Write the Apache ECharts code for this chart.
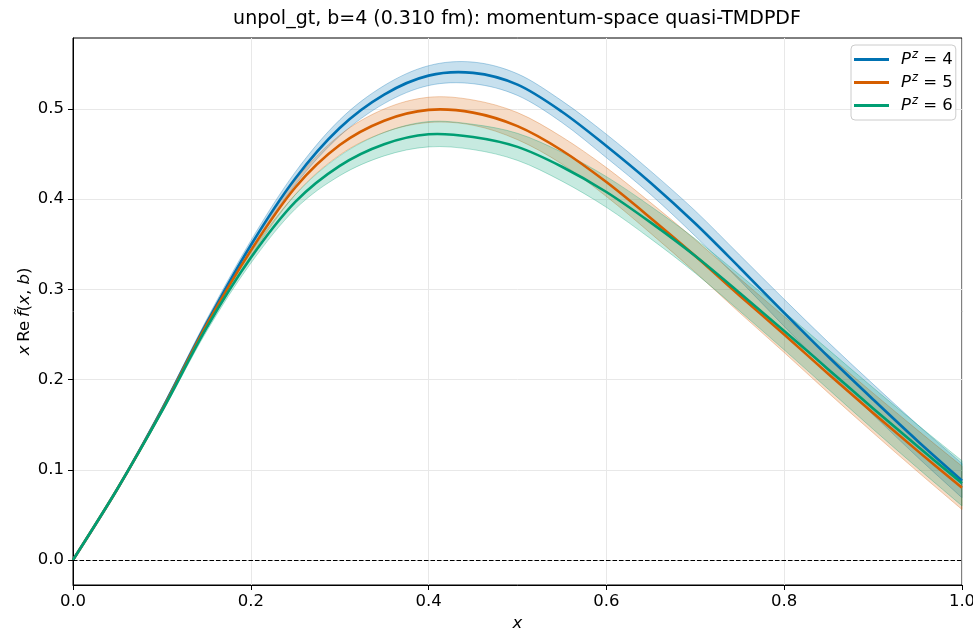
<!DOCTYPE html>
<html><head><meta charset="utf-8">
<script src="https://cdn.jsdelivr.net/npm/echarts@6/dist/echarts.min.js"></script>
<style>html,body{margin:0;padding:0;background:#fff}#c{width:973px;height:630px}</style>
</head><body><div id="c"></div>
<script>
const titleText = 'unpol_gt, b=4 (0.310 fm): momentum-space quasi-TMDPDF';
const xValues = [0, 0.05, 0.1, 0.15, 0.2, 0.25, 0.3, 0.35, 0.4, 0.45, 0.5, 0.55, 0.6, 0.65, 0.7, 0.75, 0.8, 0.85, 0.9, 0.95, 1.0];
const pzLabels = ['4', '5', '6'];
const meanPz4 = [0, 0.079, 0.167, 0.262, 0.349, 0.423, 0.479, 0.516, 0.537, 0.540, 0.527, 0.497, 0.459, 0.418, 0.373, 0.324, 0.274, 0.225, 0.178, 0.132, 0.088];
const meanPz5 = [0, 0.079, 0.166, 0.260, 0.343, 0.413, 0.460, 0.487, 0.499, 0.496, 0.481, 0.454, 0.419, 0.379, 0.337, 0.293, 0.250, 0.206, 0.163, 0.121, 0.080];
const meanPz6 = [0, 0.079, 0.165, 0.257, 0.335, 0.397, 0.437, 0.461, 0.472, 0.469, 0.458, 0.436, 0.408, 0.374, 0.337, 0.296, 0.254, 0.211, 0.168, 0.126, 0.085];
const errPz4 = [0, 0.001, 0.002, 0.004, 0.005, 0.007, 0.009, 0.010, 0.011, 0.012, 0.012, 0.012, 0.013, 0.013, 0.014, 0.014, 0.015, 0.016, 0.017, 0.018, 0.019];
const errPz5 = [0, 0.001, 0.002, 0.004, 0.006, 0.008, 0.011, 0.013, 0.014, 0.014, 0.015, 0.015, 0.016, 0.017, 0.018, 0.019, 0.020, 0.021, 0.022, 0.023, 0.024];
const errPz6 = [0, 0.001, 0.002, 0.004, 0.006, 0.008, 0.011, 0.013, 0.014, 0.014, 0.015, 0.016, 0.017, 0.018, 0.019, 0.020, 0.021, 0.022, 0.023, 0.024, 0.025];
const xTicks = [0, 0.2, 0.4, 0.6, 0.8, 1.0];
const yTicks = [0, 0.1, 0.2, 0.3, 0.4, 0.5];
const zeroLevel = 0;

const colors = ['#0072B2', '#D55E00', '#009E73'];
const means = [meanPz4, meanPz5, meanPz6];
const errs = [errPz4, errPz5, errPz6];
const FONT = 'DejaVu Sans';
const names = pzLabels.map(p => 'Pz=' + p);

function rgba(hex, a) {
  const n = parseInt(hex.slice(1), 16);
  return 'rgba(' + ((n >> 16) & 255) + ',' + ((n >> 8) & 255) + ',' + (n & 255) + ',' + a + ')';
}
// Catmull-Rom spline through pixel points -> SVG path
function crPath(pts, cmd) {
  let d = (cmd || 'M') + pts[0][0].toFixed(2) + ',' + pts[0][1].toFixed(2);
  for (let i = 0; i < pts.length - 1; i++) {
    const p0 = pts[i - 1] || pts[i], p1 = pts[i], p2 = pts[i + 1], p3 = pts[i + 2] || pts[i + 1];
    const c1x = p1[0] + (p2[0] - p0[0]) / 6, c1y = p1[1] + (p2[1] - p0[1]) / 6;
    const c2x = p2[0] - (p3[0] - p1[0]) / 6, c2y = p2[1] - (p3[1] - p1[1]) / 6;
    d += ' C' + c1x.toFixed(2) + ',' + c1y.toFixed(2) + ' ' + c2x.toFixed(2) + ',' + c2y.toFixed(2) + ' ' + p2[0].toFixed(2) + ',' + p2[1].toFixed(2);
  }
  return d;
}

const series = [];
means.forEach((m, k) => {
  const e = errs[k];
  series.push({
    name: 'band' + k, type: 'custom', silent: true, z: 1,
    data: [[0, 0]],
    renderItem: function (params, api) {
      const up = xValues.map((x, i) => api.coord([x, m[i] + e[i]]));
      const lo = xValues.map((x, i) => api.coord([x, m[i] - e[i]])).reverse();
      return {
        type: 'path',
        shape: { pathData: crPath(up) + ' ' + crPath(lo, 'L') + ' Z' },
        style: { fill: rgba(colors[k], 0.22), stroke: rgba(colors[k], 0.3), lineWidth: 1 }
      };
    }
  });
});
means.forEach((m, k) => {
  series.push({
    name: names[k], type: 'custom', z: 3,
    data: [[0, 0]],
    itemStyle: { color: colors[k] },
    renderItem: function (params, api) {
      const pts = xValues.map((x, i) => api.coord([x, m[i]]));
      return {
        type: 'path',
        shape: { pathData: crPath(pts) },
        style: { fill: 'none', stroke: colors[k], lineWidth: 2.6, lineJoin: 'round' }
      };
    }
  });
});
series.push({
  name: 'zero', type: 'custom', silent: true, z: 4,
  data: [[0, 0]],
  renderItem: function (params, api) {
    const a = api.coord([xTicks[0], zeroLevel]);
    const b = api.coord([xTicks[xTicks.length - 1], zeroLevel]);
    return {
      type: 'line',
      shape: { x1: a[0], y1: Math.round(a[1]) + 0.5, x2: b[0], y2: Math.round(b[1]) + 0.5 },
      style: { stroke: '#000', lineWidth: 1.2, lineDash: [4.5, 2] }
    };
  }
});

const chart = echarts.init(document.getElementById('c'));
chart.setOption({
  animation: false,
  backgroundColor: '#fff',
  textStyle: { fontFamily: FONT },
  title: {
    text: titleText, left: 512, top: 5, textAlign: 'center',
    textStyle: { fontFamily: FONT, fontSize: 19, fontWeight: 'normal', color: '#000' }
  },
  grid: { left: 73, right: 11, top: 38, bottom: 45, show: true, borderColor: '#000', borderWidth: 1, backgroundColor: 'transparent', outerBoundsMode: 'none', containLabel: false },
  legend: {
    data: names, orient: 'vertical', left: 851, top: 45,
    icon: 'rect', itemWidth: 35, itemHeight: 3, itemGap: 2,
    padding: [4, 3, 4, 3],
    backgroundColor: 'rgba(255,255,255,0.8)', borderColor: '#cccccc', borderWidth: 1, borderRadius: 4,
    formatter: function (name) { return '{i|P}{s|z}{n| = ' + pzLabels[names.indexOf(name)] + '}'; },
    textStyle: {
      fontFamily: FONT, fontSize: 16.5, color: '#000', lineHeight: 18,
      rich: {
        i: { fontFamily: FONT, fontStyle: 'italic', fontSize: 16.5, padding: [0, 0, 0, 7], lineHeight: 18 },
        s: { fontFamily: FONT, fontStyle: 'italic', fontSize: 11.5, padding: [0, 0, 9, 1], lineHeight: 18 },
        n: { fontFamily: FONT, fontSize: 16.5, lineHeight: 18 }
      }
    }
  },
  xAxis: {
    type: 'value', min: 0, max: 1, interval: 0.2,
    name: '{i|x}', nameLocation: 'middle', nameGap: 30, nameMoveOverlap: false,
    nameTextStyle: { rich: { i: { fontFamily: FONT, fontStyle: 'italic', fontSize: 16.5, color: '#000' } } },
    axisLine: { show: true, onZero: false, lineStyle: { color: '#000', width: 1 } },
    axisTick: { show: true, length: 5, inside: false, lineStyle: { color: '#000', width: 1 } },
    axisLabel: { margin: 8, color: '#000', fontFamily: FONT, fontSize: 16.5, formatter: v => v.toFixed(1) },
    splitLine: { show: true, lineStyle: { color: '#e8e8e8', width: 1 } }
  },
  yAxis: {
    type: 'value', min: -0.0277, max: 0.5787,
    name: '{i|x} {r|Re} {i|f\u0303}{r|(}{i|x}{r|, }{i|b}{r|)}', nameLocation: 'middle', nameGap: 40, nameMoveOverlap: false,
    nameTextStyle: {
      rich: {
        i: { fontFamily: FONT, fontStyle: 'italic', fontSize: 16.5, color: '#000' },
        r: { fontFamily: FONT, fontSize: 16.5, color: '#000' }
      }
    },
    axisLine: { show: true, onZero: false, lineStyle: { color: '#000', width: 1 } },
    axisTick: { show: true, length: 5, inside: false, customValues: yTicks, lineStyle: { color: '#000', width: 1 } },
    axisLabel: { margin: 9, color: '#000', fontFamily: FONT, fontSize: 16.5, customValues: yTicks, formatter: v => v.toFixed(1) },
    splitLine: { show: true, lineStyle: { color: '#e8e8e8', width: 1 } }
  },
  series: series
});
</script>
</body></html>
